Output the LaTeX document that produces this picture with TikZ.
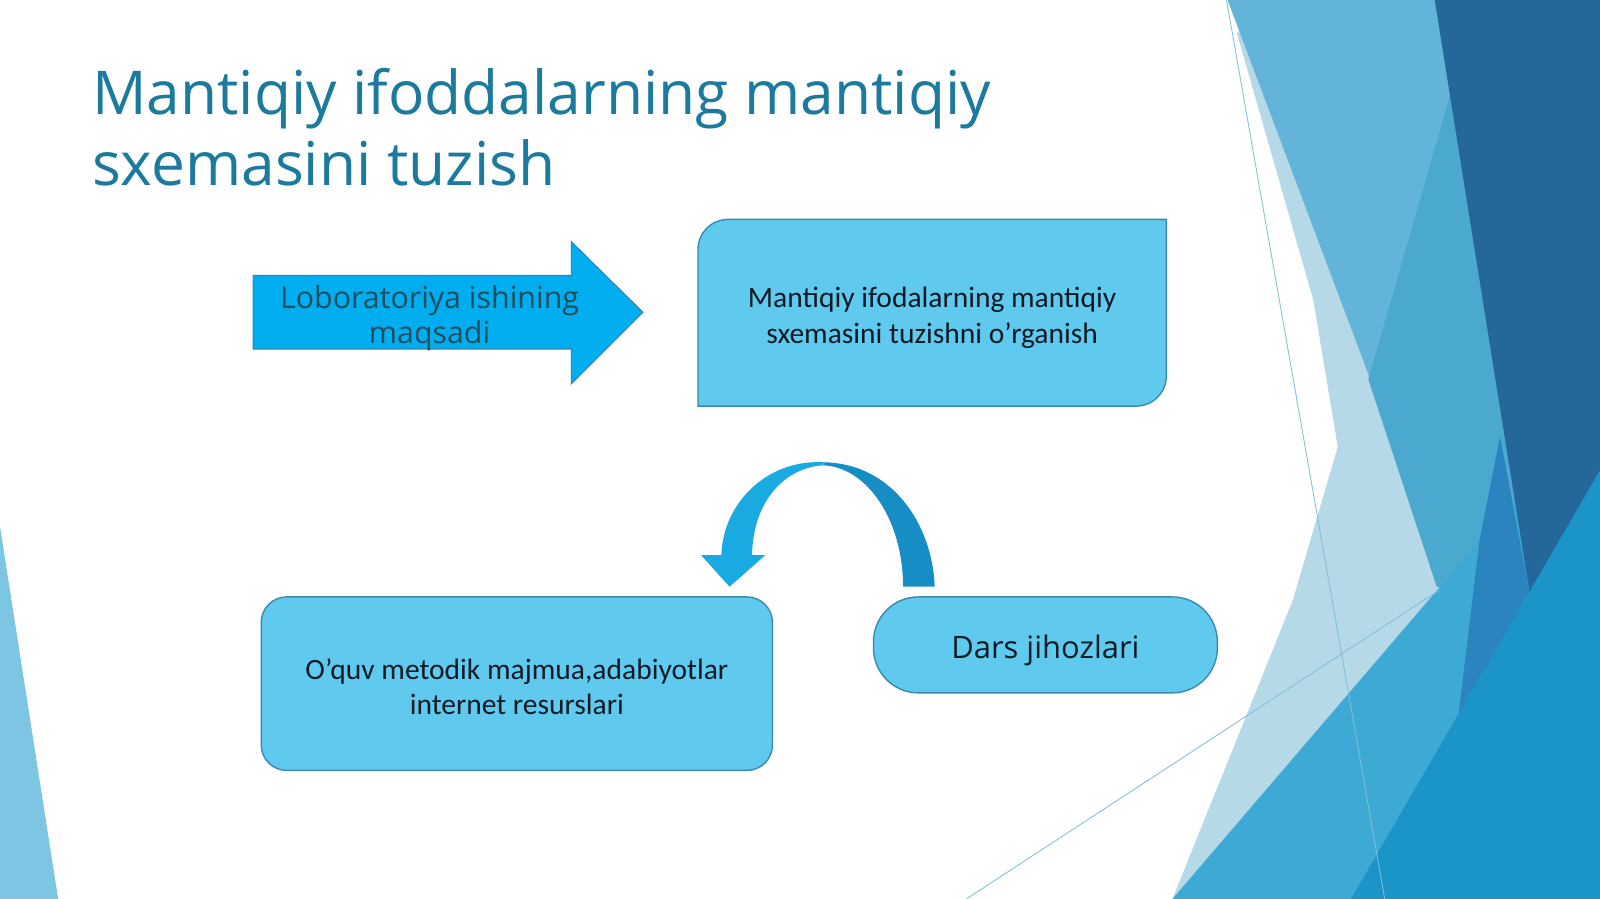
\documentclass[tikz,border=0pt]{standalone}
\usepackage{fontspec}
\setmainfont{Carlito}
\newfontfamily\opensans{Open Sans}
\usetikzlibrary{calc}

\definecolor{titleblue}{HTML}{1B7A9E}
\definecolor{boxfill}{HTML}{5FCAEE}
\definecolor{boxline}{HTML}{3A8AAE}
\definecolor{textdark}{HTML}{0E1A26}
\definecolor{goaltext}{HTML}{1F4E5F}
\definecolor{arrowfill}{HTML}{00AEEF}
\definecolor{arrowline}{HTML}{2B88B4}
\definecolor{arclight}{HTML}{1AAAE2}
\definecolor{arcdark}{HTML}{168EC5}
\definecolor{facetleft}{HTML}{7DC6E3}
\definecolor{facetpale}{HTML}{B6D9E8}
\definecolor{facetlight}{HTML}{62B5D8}
\definecolor{facetteal}{HTML}{4BA8CF}
\definecolor{facetsea}{HTML}{3DA9D5}
\definecolor{facetdark}{HTML}{23679B}
\definecolor{facetmid}{HTML}{2B84BE}
\definecolor{facetdeep}{HTML}{1B95C8}
\definecolor{facetline}{HTML}{80BFD6}

\newlength\pxu
\setlength\pxu{0.02551cm}

\begin{document}
\begin{tikzpicture}[x=\pxu,y=-\pxu,
    box/.style={draw=boxline,fill=boxfill,line width=1pt},
    boxtext/.style={font=\fontsize{21}{25.4}\selectfont,text=textdark,align=center},
    thin/.style={draw=facetline,line width=.6pt}
  ]
    \useasboundingbox (0,0) rectangle (1568,881);
    \fill[white] (0,0) rectangle (1568,881);

    % background facets
    \fill[facetleft] (0,516) -- (57,881) -- (0,881) -- cycle;
    \fill[facetpale] (1212,32) -- (1287,294) -- (1311,438) -- (1267,588) -- (1149,881)
      -- (1568,881) -- (1568,0) -- (1420,0) -- cycle;
    \fill[facetlight] (1203,0) -- (1411,0) -- (1431,78) -- (1343,372) -- cycle;
    \fill[facetteal] (1431,59) -- (1341,372) -- (1408,575) -- (1509,588) -- (1470,59) -- cycle;
    \fill[facetsea] (1149,881) -- (1509,461) -- (1568,412) -- (1568,881) -- cycle;
    \fill[facetdark] (1406,0) -- (1568,0) -- (1568,461) -- (1499,581) -- cycle;
    \fill[facetmid] (1470,428) -- (1499,581) -- (1428,712) -- (1450,529) -- cycle;
    \fill[facetdeep] (1324,881) -- (1568,461) -- (1568,881) -- cycle;
    \draw[thin] (1202,0) -- (1357,881);
    \draw[thin] (947,881) -- (1411,578);

    % title
    \node[anchor=base west,inner sep=0pt,align=left,text=titleblue,
      font=\opensans\fontsize{43}{50.6}\selectfont] (head) at (90,181.5)
      {Mantiqiy ifoddalarning mantiqiy\\sxemasini tuzish};

    % goal arrow
    \filldraw[fill=arrowfill,draw=arrowline,line width=.8pt]
      (248,270) -- (560,270) -- (560,237) -- (630,306) -- (560,376) -- (560,342) -- (248,342) -- cycle;
    \node[align=center,text=goaltext,font=\opensans\fontsize{21.6}{24.7}\selectfont] (goal)
      at (421,312) {Loboratoriya ishining\\maqsadi};

    % boxes
    \coordinate (studyNW) at (684,215);
    \coordinate (studySE) at (1143,398);
    \filldraw[box] (studyNW |- studySE) -- ($(studyNW)+(0,30)$)
      .. controls +(0,-17) and +(-17,0) .. ($(studyNW)+(30,0)$) -- (studySE |- studyNW)
      -- ($(studySE)+(0,-30)$) .. controls +(0,17) and +(17,0) .. ($(studySE)+(-30,0)$) -- cycle;
    \node[boxtext] (study) at ($(studyNW)!.5!(studySE)+(0,5)$)
      {Mantiqiy ifodalarning mantiqiy\\sxemasini tuzishni o’rganish};

    \coordinate (resNW) at (256,585);
    \coordinate (resSE) at (757,755);
    \filldraw[box,rounded corners=25\pxu] (resNW) rectangle (resSE);
    \node[boxtext] (res) at ($(resNW)!.5!(resSE)+(0,3)$)
      {O’quv metodik majmua,adabiyotlar\\internet resurslari};

    \coordinate (toolsNW) at (856,585);
    \coordinate (toolsSE) at (1193,679);
    \filldraw[box,rounded corners=44\pxu] (toolsNW) rectangle (toolsSE);
    \node[text=textdark,font=\opensans\fontsize{22}{26}\selectfont] (tools)
      at ($(toolsNW)!.5!(toolsSE)+(0,5)$) {Dars jihozlari};

    % curved arrow
    \fill[arcdark] (916,575) .. controls (914,515) and (875,454) .. (807,453)
      -- (807,456) .. controls (850,458) and (885,510) .. (885,575) -- cycle;
    \fill[arclight] (807,453) .. controls (750,450) and (708,495) .. (707,544)
      -- (687,544) -- (715,575) -- (750,544) -- (737,544)
      .. controls (738,490) and (770,458) .. (807,456) -- cycle;
\end{tikzpicture}
\end{document}
